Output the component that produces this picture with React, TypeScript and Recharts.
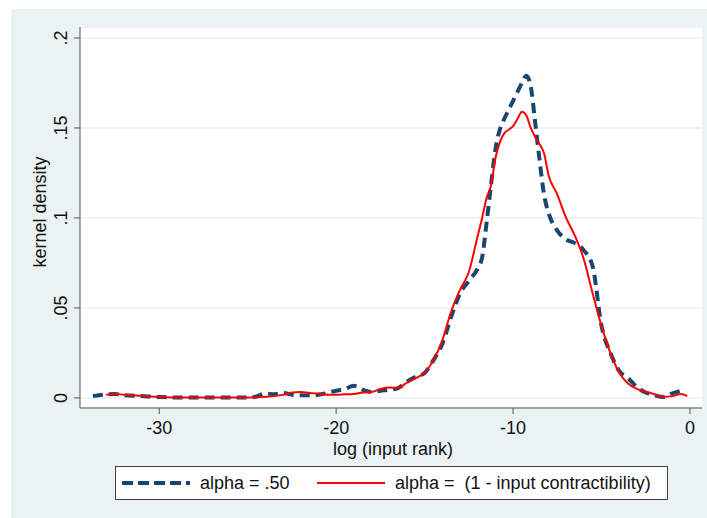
import { LineChart, Line, XAxis, YAxis, CartesianGrid } from "recharts";

// log (input rank) grid
const logRank = [
  -33.75, -33, -32.5, -32, -31, -30, -29, -28, -27, -26, -25, -24.5, -24, -23.5, -23, -22.5, -22, -21.5,
  -21, -20.5, -20, -19.5, -19, -18.5, -18, -17.5, -17, -16.5, -16, -15.5, -15, -14.5, -14, -13.5, -13,
  -12.5, -12, -11.75, -11.5, -11.25, -11, -10.75, -10.5, -10.25, -10, -9.75, -9.5, -9.25, -9, -8.75, -8.5,
  -8.25, -8, -7.5, -7, -6.5, -6, -5.5, -5, -4.5, -4, -3.5, -3, -2.5, -2, -1.5, -1, -0.5, -0.15,
];

// alpha = .50 (dashed)
const densityHalf = [
  0.001, 0.002, 0.0022, 0.0015, 0.001, 0.0005, 0.0002, 0.0002, 0.0002, 0.0002, 0.0002, 0.0008, 0.0025,
  0.002, 0.0028, 0.0018, 0.0015, 0.0015, 0.0018, 0.0028, 0.004, 0.005, 0.0067, 0.0045, 0.0033, 0.004,
  0.0045, 0.0055, 0.009, 0.0117, 0.0139, 0.021, 0.03, 0.045, 0.058, 0.065, 0.072, 0.078, 0.097, 0.118,
  0.138, 0.149, 0.155, 0.16, 0.165, 0.17, 0.175, 0.179, 0.173, 0.153, 0.132, 0.113, 0.103, 0.093, 0.088,
  0.086, 0.082, 0.073, 0.04, 0.025, 0.015, 0.011, 0.006, 0.003, 0.0015, 0.0005, 0.0025, 0.004, null,
];

// alpha = (1 - input contractibility) (solid red)
const densityContract = [
  null, 0.0018, 0.0022, 0.0018, 0.0012, 0.0006, 0.0002, 0.0002, 0.0002, 0.0002, 0.0002, 0.0003, 0.0006,
  0.001, 0.0017, 0.003, 0.0033, 0.0028, 0.0024, 0.0018, 0.0018, 0.002, 0.0022, 0.003, 0.0033, 0.005,
  0.0058, 0.0056, 0.0085, 0.011, 0.014, 0.021, 0.032, 0.048, 0.06, 0.07, 0.09, 0.1, 0.111, 0.118, 0.133,
  0.142, 0.147, 0.149, 0.151, 0.155, 0.159, 0.157, 0.15, 0.145, 0.141, 0.136, 0.124, 0.113, 0.1, 0.09,
  0.077, 0.058, 0.04, 0.025, 0.014, 0.008, 0.005, 0.0035, 0.002, 0.0006, 0.001, 0.0022, 0.001,
];

const xTicks = [-30, -20, -10, 0];
const yTicks = [0, 0.05, 0.1, 0.15, 0.2];
const yTickLabels = ["0", ".05", ".1", ".15", ".2"];

const data = logRank.map((x, i) => ({ x, half: densityHalf[i], contract: densityContract[i] }));

const font = "'Liberation Sans', Arial, sans-serif";
const navy = "#1a476f";
const bg = "#eaf2f3";

const XTick = ({ x, payload }: any) => (
  <text x={x} y={434} textAnchor="middle" fontSize={18} fontFamily={font} fill="#111">
    {payload.value}
  </text>
);

const YTick = ({ y, payload }: any) => {
  const i = yTicks.indexOf(payload.value);
  return (
    <text
      x={67}
      y={y}
      transform={`rotate(-90 67 ${y})`}
      textAnchor="middle"
      fontSize={18}
      fontFamily={font}
      fill="#111"
    >
      {yTickLabels[i]}
    </text>
  );
};

export default function App() {
  return (
    <div style={{ position: "absolute", left: 0, top: 0, width: 707, height: 518, background: "#fff" }}>
      <div style={{ position: "absolute", left: 11, top: 9, width: 696, height: 509, background: bg }} />
      <div style={{ position: "absolute", left: 0, top: 0 }}>
        <LineChart width={707} height={518} data={data} margin={{ top: 27, right: 5, left: 20, bottom: 80 }}>
          <CartesianGrid vertical={false} stroke={bg} strokeWidth={1.5} fill="#fff" fillOpacity={1} />
          <XAxis
            type="number"
            dataKey="x"
            domain={[-34.48, 0.68]}
            ticks={xTicks}
            allowDataOverflow
            height={30}
            tickSize={6}
            stroke="#555"
            tick={<XTick />}
          />
          <YAxis
            type="number"
            domain={[-0.0056, 0.2061]}
            ticks={yTicks}
            allowDataOverflow
            width={60}
            tickSize={6}
            stroke="#555"
            tick={<YTick />}
          />
          <Line
            dataKey="half"
            type="monotone"
            stroke={navy}
            strokeWidth={4}
            strokeDasharray="10 6"
            dot={false}
            isAnimationActive={false}
          />
          <Line
            dataKey="contract"
            type="monotone"
            stroke="#ff0000"
            strokeWidth={2}
            dot={false}
            isAnimationActive={false}
          />
        </LineChart>
      </div>
      <svg
        width={707}
        height={518}
        style={{ position: "absolute", left: 0, top: 0, pointerEvents: "none" }}
        fontFamily={font}
      >
        <text x={46} y={212} transform="rotate(-90 46 212)" textAnchor="middle" fontSize={18} fill="#111">
          kernel density
        </text>
        <text x={393} y={455} textAnchor="middle" fontSize={18} fill="#111">
          log (input rank)
        </text>
        <rect x={115.5} y={466.5} width={552} height={33} fill="#fff" stroke="#404040" />
        <line x1={122} y1={483} x2={190} y2={483} stroke={navy} strokeWidth={4} strokeDasharray="11 5" />
        <text x={200} y={489} fontSize={18} fill="#111">
          alpha = .50
        </text>
        <line x1={317} y1={483} x2={385} y2={483} stroke="#ff0000" strokeWidth={2} />
        <text x={395} y={489} fontSize={18} fill="#111" style={{ whiteSpace: "pre" }}>
          {"alpha =  (1 - input contractibility)"}
        </text>
      </svg>
    </div>
  );
}
